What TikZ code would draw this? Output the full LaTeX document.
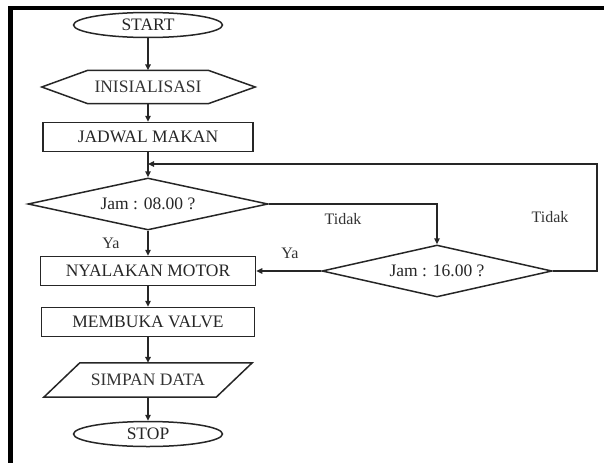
\documentclass[tikz,border=0pt]{standalone}
\usepackage{fontspec}
\setmainfont{Liberation Serif}
\usetikzlibrary{calc,arrows.meta,shapes.geometric}
\tikzset{
	garis/.style={line width=1.5pt, color=black!85},
	panah/.style={garis, -{Triangle[length=6pt,width=5.5pt]}},
	teks/.style={font=\fontsize{17.5}{20}\selectfont, text=black!80},
	kotak/.style={teks, draw, garis, inner sep=0pt, minimum height=29pt},
	oval/.style={teks, draw, garis, ellipse, inner sep=0pt, minimum width=149pt, minimum height=25pt},
	belah/.style={teks, draw, garis, diamond, aspect=4.6, inner sep=0pt, minimum height=52pt},
	ket/.style={font=\fontsize{16}{18}\selectfont, text=black!80}
}

\begin{document}
\begin{tikzpicture}[x=1pt, y=-1pt]
	%%%%% START %%%%%
	\useasboundingbox (0, 0) rectangle (604, 463);
	\fill[black] (8, 6) rectangle (604, 9.5);
	\fill[black] (8, 6) rectangle (12.5, 463);
	
	\node[oval] (start) at (148, 25) {START};
	
	\node[teks, minimum width=120pt, minimum height=33pt, inner sep=0pt] (init) at (148, 87) {INISIALISASI};
	\draw[garis] (init.north west) -- (init.north east) -- ($(init.east)+(47, 0)$) -- (init.south east) -- (init.south west) -- ($(init.west)+(-46, 0)$) -- cycle;
	
	\node[kotak, minimum width=210pt] (jadwal) at (148, 137) {JADWAL MAKAN};
	\coordinate (gabung) at (148, 164);
	
	\node[belah, minimum width=240pt] (cek1) at (148, 204) {Jam : 08.00 ?};
	\node[belah, minimum width=230pt] (cek2) at (437, 271) {Jam : 16.00 ?};
	\coordinate (kanan) at (597, 271);
	
	\node[kotak, minimum width=215pt] (motor) at (148, 271) {NYALAKAN MOTOR};
	\node[kotak, minimum width=213pt] (valve) at (148, 322) {MEMBUKA VALVE};
	
	\node[teks, minimum width=136pt, minimum height=34pt, inner sep=0pt] (simpan) at (148, 380) {SIMPAN DATA};
	\draw[garis] (simpan.north west) -- ($(simpan.north east)+(36, 0)$) -- (simpan.south east) -- ($(simpan.south west)+(-36, 0)$) -- cycle;
	
	\node[oval] (stop) at (148, 434) {STOP};
	
	% label
	\node[ket] (ya1) at (111, 243) {Ya};
	\node[ket] (ya2) at (290, 253) {Ya};
	\node[ket] (tidak1) at (343, 219) {Tidak};
	\node[ket] (tidak2) at (550, 217) {Tidak};
	
	% panah
	\draw[panah] (start) -- (init);
	\draw[panah] (init) -- (jadwal);
	\draw[panah] (jadwal) -- (cek1);
	\draw[panah] (cek1) -- (motor);
	\draw[panah] (motor) -- (valve);
	\draw[panah] (valve) -- (simpan);
	\draw[panah] (simpan) -- (stop);
	\draw[panah] (cek1.east) -| (cek2.north);
	\draw[panah] (cek2.west) -- (motor.east);
	\draw[panah] (cek2.east) -- (kanan) |- (gabung);
	
	%%%%% END %%%%%
\end{tikzpicture}
\end{document}
